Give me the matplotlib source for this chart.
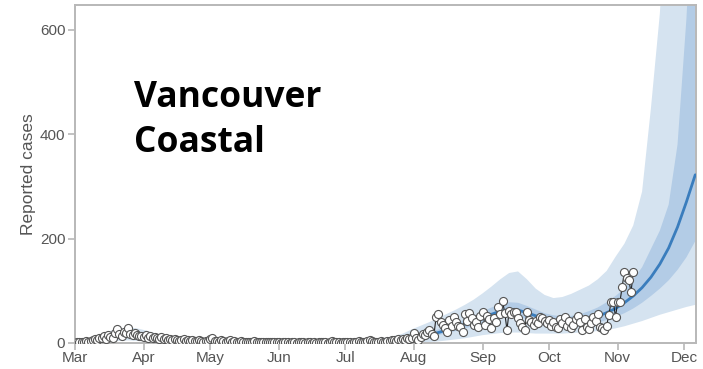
import numpy as np
import pandas as pd
import matplotlib
matplotlib.use("Agg")
import matplotlib.pyplot as plt
import matplotlib.dates as mdates

# ---------------- data ----------------
obs_start = "2020-03-01"
obs_mar = [0, 1, 1, 2, 1, 3, 2, 4, 6, 8, 5, 10, 9, 13, 7, 16, 12, 9, 20, 27, 18, 14, 22, 19, 28, 17, 15, 19, 16, 14, 13]
obs_apr = [12, 15, 10, 13, 9, 11, 10, 8, 12, 7, 9, 6, 8, 5, 7, 6, 4, 5, 7, 3, 5, 4, 6, 3, 4, 5, 3, 2, 4, 3]
obs_may = [8, 9, 4, 3, 2, 5, 3, 2, 4, 6, 2, 3, 2, 1, 3, 2, 1, 2, 1, 2, 3, 1, 2, 1, 1, 2, 1, 2, 1, 1, 2]
obs_jun = [1, 0, 1, 2, 1, 0, 1, 1, 0, 1, 2, 1, 0, 1, 1, 0, 1, 0, 1, 1, 2, 1, 0, 1, 4, 2, 1, 1, 0, 1]
obs_jul = [1, 2, 1, 0, 1, 2, 3, 1, 2, 1, 4, 6, 3, 2, 1, 2, 3, 1, 2, 4, 3, 5, 6, 4, 7, 5, 8, 6, 9, 7, 10]
obs_aug = [20, 10, 5, 12, 18, 15, 22, 25, 18, 14, 50, 56, 40, 35, 28, 22, 44, 32, 50, 40, 33, 30, 22, 55, 42, 58, 48, 34, 40, 30, 52]
obs_sep = [60, 35, 52, 45, 28, 48, 40, 68, 55, 80, 58, 25, 62, 55, 60, 60, 48, 38, 30, 25, 60, 44, 40, 35, 42, 38, 50, 48, 42, 38]
obs_oct = [44, 32, 40, 30, 28, 45, 38, 50, 33, 42, 28, 35, 46, 52, 40, 25, 45, 30, 26, 38, 50, 42, 55, 30, 28, 25, 33, 54, 79, 79, 50]
obs_nov = [79, 79, 107, 136, 124, 121, 97, 136]

model_start = "2020-03-01"
model_step_days = 4
model_median = [1, 3, 6, 10, 14, 17, 18, 16, 13, 10, 7, 5, 4, 3, 2.5, 2,
                2, 1.5, 1.5, 1.5, 1, 1, 1, 1, 1, 1, 1, 1, 1, 1.5, 1.5,
                2, 2.5, 3, 4, 5, 6.5, 8, 10,
                13, 16, 20, 25, 30, 36, 42,
                48, 55, 61, 64, 63, 58, 52, 46,
                42, 40, 40, 42, 46, 51, 58, 66,
                77, 90, 106, 126, 151, 182, 222, 270, 322]
inner_upper = [2, 4, 8, 13, 18, 22, 23, 21, 17, 13, 9, 7, 5, 4, 3, 2.5,
               2.5, 2, 2, 2, 1.5, 1.5, 1.5, 1.5, 1.5, 1.5, 1.5, 1.5, 1.5, 2, 2,
               2.5, 3, 4, 5, 6.5, 8, 10, 13,
               17, 21, 26, 32, 38, 45, 52,
               60, 68, 74, 78, 77, 71, 64, 57,
               53, 51, 52, 55, 61, 68, 78, 90,
               104, 122, 145, 180, 215, 265, 380, 620, 950]
inner_lower = [0.5, 2, 4, 7, 10, 13, 13, 11, 9, 7, 5, 3.5, 3, 2, 1.5, 1,
               1, 1, 1, 1, 0.5, 0.5, 0.5, 0.5, 0.5, 0.5, 0.5, 0.5, 0.5, 1, 1,
               1.5, 2, 2.5, 3, 4, 5, 6, 7.5,
               10, 12, 15, 19, 23, 28, 33,
               38, 44, 49, 51, 50, 46, 41, 37,
               33, 31, 31, 32, 35, 39, 44, 50,
               57, 66, 77, 90, 104, 120, 140, 164, 195]
outer_upper = [3, 6, 11, 17, 23, 28, 30, 28, 24, 19, 14, 10, 8, 6, 5, 4,
               4, 3, 3, 3, 3, 3, 3, 3, 3, 3, 3, 3, 3, 3, 4,
               4, 5, 6, 8, 10, 13, 18, 26,
               33, 40, 48, 56, 64, 73, 83,
               95, 108, 122, 134, 137, 122, 104, 92,
               86, 88, 94, 102, 110, 122, 138, 165,
               190, 225, 290, 450, 630, 900, 1200, 1500, 1800]
outer_lower = [0, 0.5, 1, 2, 3, 4, 5, 4, 3, 2, 1, 0.5, 0, 0, 0, 0,
               0, 0, 0, 0, 0, 0, 0, 0, 0, 0, 0, 0, 0, 0, 0,
               0, 0, 0, 0, 0, 0, 0, 0,
               1, 2, 3, 5, 7, 9, 12,
               15, 17, 19, 20, 20, 19, 18, 18,
               18, 18, 19, 20, 21, 23, 25, 28,
               32, 37, 42, 48, 54, 59, 64, 69, 73]

region_title = ["Vancouver", "Coastal"]
y_label = "Reported cases"
y_ticks = [0, 200, 400, 600]

# ---------------- build ----------------
obs_vals = obs_mar + obs_apr + obs_may + obs_jun + obs_jul + obs_aug + obs_sep + obs_oct + obs_nov
obs_dates = pd.date_range(obs_start, periods=len(obs_vals), freq="D")
model_dates = pd.date_range(model_start, periods=len(model_median), freq=f"{model_step_days}D")

W, H, DPI = 703, 369, 100
fig = plt.figure(figsize=(W / DPI, H / DPI), dpi=DPI)
ax = fig.add_axes([75 / W, (H - 343) / H, (696 - 75) / W, (343 - 5) / H])

outer_col = "#d5e3f0"
inner_col = "#b3cce6"
line_col = "#3a7dbd"

ax.fill_between(model_dates, outer_lower, outer_upper, color=outer_col, lw=0, zorder=1)
ax.fill_between(model_dates, inner_lower, inner_upper, color=inner_col, lw=0, zorder=2)
ax.plot(model_dates, model_median, color=line_col, lw=2.0, zorder=3, solid_capstyle="round")

ax.plot(obs_dates, obs_vals, color="#222222", lw=0.8, zorder=4)
ax.plot(obs_dates, obs_vals, ls="none", marker="o", ms=5.8, mfc="white",
        mec="#555555", mew=0.8, zorder=5)

ax.set_xlim(pd.Timestamp("2020-03-01"), pd.Timestamp("2020-12-06 08:00"))
ax.set_ylim(0, 647)
ax.set_yticks(y_ticks)
ax.xaxis.set_major_locator(mdates.MonthLocator())
ax.xaxis.set_major_formatter(mdates.DateFormatter("%b"))

tick_col = "#555555"
for sp in ax.spines.values():
    sp.set_color("#b8b8b8")
    sp.set_linewidth(1.4)
ax.tick_params(axis="both", colors="#b8b8b8", labelcolor=tick_col, length=5, width=1.2,
               labelsize=11)
for lab in ax.get_xticklabels() + ax.get_yticklabels():
    lab.set_fontfamily("Liberation Sans")
ax.tick_params(axis="x", pad=1)
ax.tick_params(axis="y", pad=2)
ax.set_ylabel(y_label, fontsize=12.5, color=tick_col, family="Liberation Sans", labelpad=3)

fig.text(134 / W, (H - 106.7) / H, region_title[0], fontsize=25.5, fontweight="bold",
         family="Open Sans", color="black", va="baseline", ha="left")
fig.text(134 / W, (H - 151.7) / H, region_title[1], fontsize=25.5, fontweight="bold",
         family="Open Sans", color="black", va="baseline", ha="left")

fig.savefig("out.png", dpi=DPI)
